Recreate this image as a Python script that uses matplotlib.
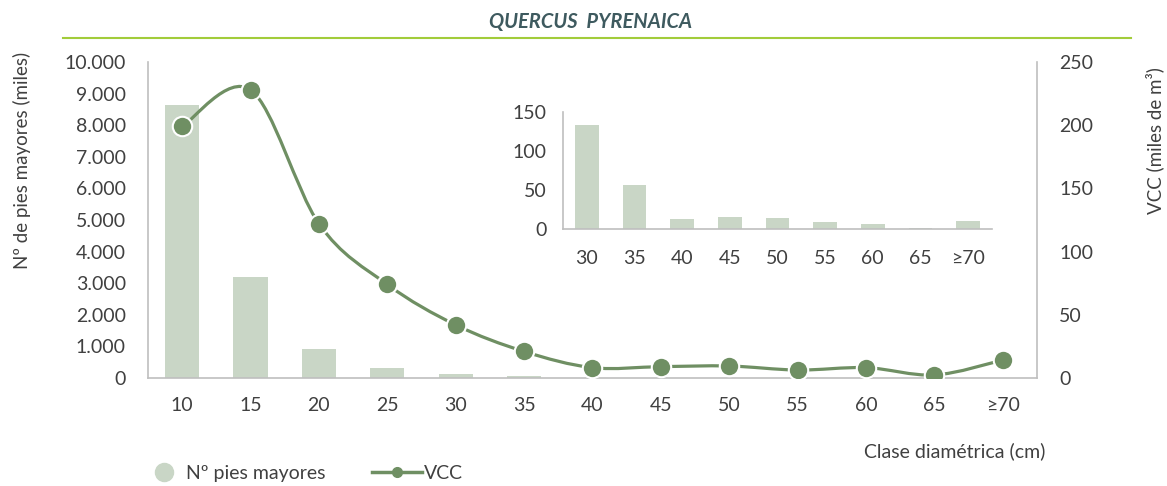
import numpy as np
import matplotlib
matplotlib.use('Agg')
import matplotlib.pyplot as plt
from matplotlib.path import Path
from matplotlib.patches import PathPatch
from matplotlib.lines import Line2D
from matplotlib.ticker import FuncFormatter

plt.rcParams['font.family'] = ['Lato', 'DejaVu Sans']

# data
clases = ['10', '15', '20', '25', '30', '35', '40', '45', '50', '55', '60', '65', '≥70']
pies_mayores = [8650, 3200, 930, 310, 133, 57, 13, 16, 14, 8.5, 6, 1.3, 10.7]   # miles
vcc = [199, 228, 122, 74, 42, 21, 8.2, 9, 9.5, 6.3, 8.2, 2.4, 14.2]              # miles de m3

inset_clases = clases[4:]
inset_pies = pies_mayores[4:]

bar_color = '#c9d6c6'
line_color = '#6f8f63'
txt_color = '#404040'
spine_color = '#bfbfbf'
fs = 14

fig = plt.figure(figsize=(11.67, 4.86), dpi=100)

ax = fig.add_axes([0.1268, 0.2222, 0.7618, 0.6502])
x = np.arange(len(clases))
ax.bar(x, pies_mayores, 0.5, color=bar_color, zorder=2)
ax.set_xlim(-0.5, len(clases) - 0.5)
ax.set_ylim(0, 10000)
ax.set_yticks(np.arange(0, 10001, 1000))
ax.yaxis.set_major_formatter(FuncFormatter(lambda v, p: f'{int(v):,}'.replace(',', '.')))
ax.set_xticks(x)
ax.set_xticklabels(clases)
ax.tick_params(length=0, labelsize=fs, colors=txt_color, pad=16)
ax.tick_params(axis='x', pad=14)
for s in ['top', 'right']:
    ax.spines[s].set_visible(False)
for s in ['left', 'bottom']:
    ax.spines[s].set_color(spine_color)
    ax.spines[s].set_linewidth(1.2)

ax2 = ax.twinx()
ax2.set_ylim(0, 250)
ax2.set_yticks(np.arange(0, 251, 50))
ax2.tick_params(length=0, labelsize=fs, colors=txt_color, pad=16)
for s in ['top', 'left', 'bottom']:
    ax2.spines[s].set_visible(False)
ax2.spines['right'].set_color(spine_color)
ax2.spines['right'].set_linewidth(1.2)

# smoothed line (Catmull-Rom as cubic bezier segments)
pts = np.column_stack([x, vcc]).astype(float)
verts = [pts[0]]
codes = [Path.MOVETO]
n = len(pts)
for i in range(n - 1):
    p0 = pts[max(i - 1, 0)]
    p1 = pts[i]
    p2 = pts[i + 1]
    p3 = pts[min(i + 2, n - 1)]
    c1 = p1 + (p2 - p0) / 6.0
    c2 = p2 - (p3 - p1) / 6.0
    verts += [c1, c2, p2]
    codes += [Path.CURVE4] * 3
ax2.add_patch(PathPatch(Path(verts, codes), facecolor='none', edgecolor=line_color,
                        lw=2.3, zorder=3))
ax2.plot(x, vcc, ls='', marker='o', ms=14, mfc=line_color, mec='white', mew=1.5, zorder=4)

# inset
axi = fig.add_axes([0.4824, 0.5288, 0.3676, 0.2407])
xi = np.arange(len(inset_clases))
axi.bar(xi, inset_pies, 0.5, color=bar_color)
axi.set_xlim(-0.5, len(inset_clases) - 0.5)
axi.set_ylim(0, 150)
axi.set_yticks([0, 50, 100, 150])
axi.set_xticks(xi)
axi.set_xticklabels(inset_clases)
axi.tick_params(length=0, labelsize=fs, colors=txt_color, pad=12)
axi.tick_params(axis='x', pad=15)
axi.patch.set_alpha(0)
for s in ['top', 'right']:
    axi.spines[s].set_visible(False)
for s in ['left', 'bottom']:
    axi.spines[s].set_color(spine_color)
    axi.spines[s].set_linewidth(1.2)

# texts
fig.text(0.506, 0.955, 'QUERCUS  PYRENAICA', ha='center', va='center', fontsize=14.5,
         fontweight='bold', fontstyle='italic', color='#3e5a5f')
fig.add_artist(Line2D([0.054, 0.969], [0.922, 0.922], transform=fig.transFigure,
                      color='#a2cc3a', lw=1.5))
fig.text(22 / 1167, 1 - 160 / 486, 'Nº de pies mayores (miles)', rotation=90,
         ha='center', va='center', fontsize=fs - 0.5, color=txt_color)
fig.text(1155 / 1167, 1 - 141 / 486, 'VCC (miles de m³)', rotation=90,
         ha='center', va='center', fontsize=fs - 0.5, color=txt_color)
fig.text(1045 / 1167, 1 - 451 / 486, 'Clase diamétrica (cm)', ha='right', va='center',
         fontsize=fs, color=txt_color)

# legend
h1 = Line2D([], [], ls='', marker='o', ms=13, color=bar_color)
h2 = Line2D([], [], ls='-', lw=2.5, marker='o', ms=7, color=line_color)
leg1 = fig.legend([h1], ['Nº pies mayores'], loc='center left', bbox_to_anchor=(145 / 1167, 1 - 473 / 486),
                  frameon=False, borderpad=0, handlelength=1.0, handletextpad=0.6, fontsize=fs,
                  labelcolor=txt_color)
leg2 = fig.legend([h2], ['VCC'], loc='center left', bbox_to_anchor=(362 / 1167, 1 - 473 / 486),
                  frameon=False, borderpad=0, handlelength=2.6, handletextpad=0.1, fontsize=fs,
                  labelcolor=txt_color)

plt.savefig('out.png', dpi=100)
